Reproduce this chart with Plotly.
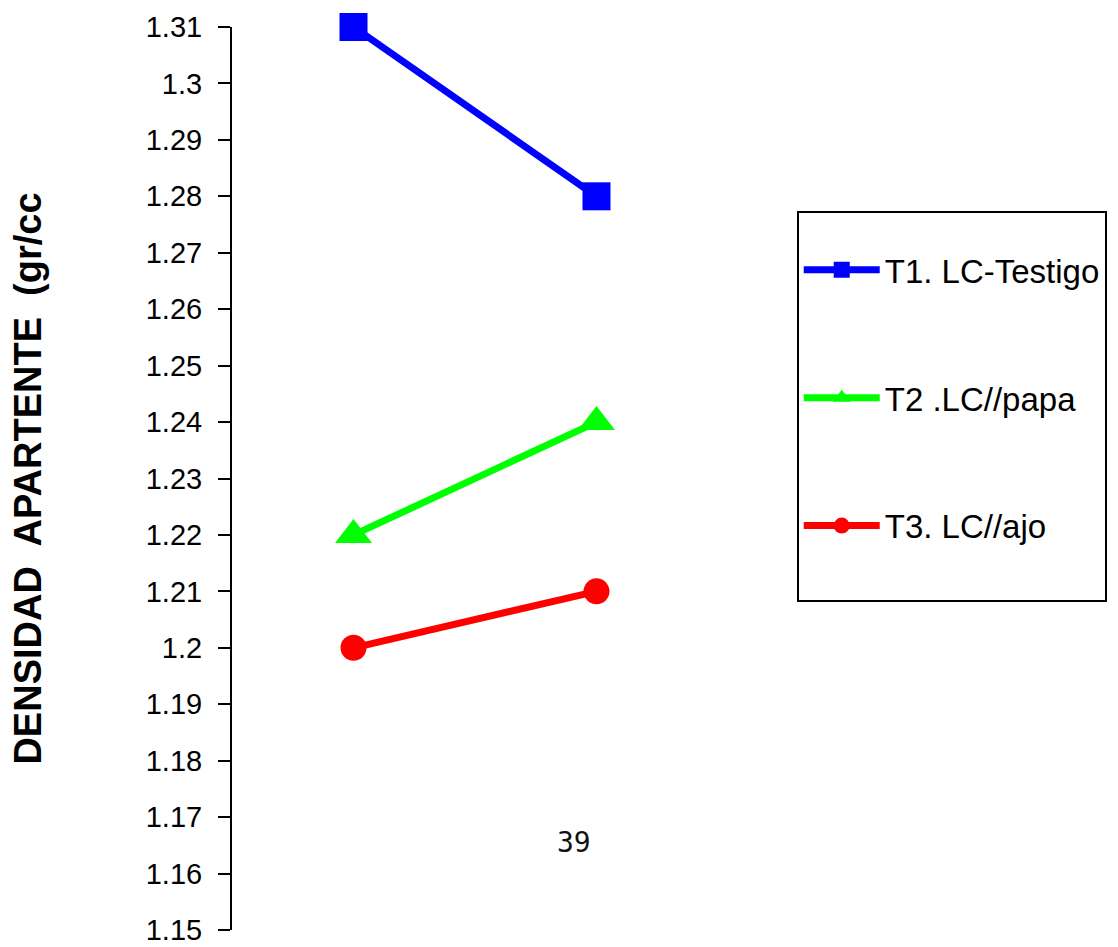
import plotly.graph_objects as go

periods = [1, 2]
series_names = ["T1. LC-Testigo", "T2 .LC//papa", "T3. LC//ajo"]
t1_values = [1.31, 1.28]
t2_values = [1.22, 1.24]
t3_values = [1.20, 1.21]
y_ticks = [1.15, 1.16, 1.17, 1.18, 1.19, 1.20, 1.21, 1.22, 1.23, 1.24,
           1.25, 1.26, 1.27, 1.28, 1.29, 1.30, 1.31]
y_tick_labels = ["1.15", "1.16", "1.17", "1.18", "1.19", "1.2", "1.21", "1.22", "1.23",
                 "1.24", "1.25", "1.26", "1.27", "1.28", "1.29", "1.3", "1.31"]

colors = ["#0000FF", "#00FF00", "#FF0000"]
symbols = ["square", "triangle-up", "circle"]
sizes = [28, 32, 26]
values = [t1_values, t2_values, t3_values]

fig = go.Figure()
for i, (name, vals) in enumerate(zip(series_names, values)):
    fig.add_trace(go.Scatter(
        x=periods, y=vals, name=name, mode="lines+markers",
        line=dict(color=colors[i], width=7),
        marker=dict(color=colors[i], symbol=symbols[i], size=sizes[i]),
        cliponaxis=False, legendgroup=f"g{i}",
    ))

# blank legend row to give the legend box its bottom padding
fig.add_trace(go.Scatter(
    x=[None], y=[None], name="&nbsp;", mode="lines",
    line=dict(color="rgba(0,0,0,0)", width=0),
    legendgroup="g2", hoverinfo="skip",
))

fig.update_layout(
    width=1118, height=947,
    margin=dict(l=232, r=400, t=27, b=17, autoexpand=False),
    paper_bgcolor="white", plot_bgcolor="white",
    font=dict(family="Liberation Sans, Arial, sans-serif", color="black"),
    showlegend=True,
    legend=dict(
        x=1.162, y=0.796, xanchor="left", yanchor="top",
        bordercolor="black", borderwidth=2, bgcolor="white",
        font=dict(size=33, family="Liberation Sans, Arial, sans-serif"),
        traceorder="grouped", tracegroupgap=82,
        title=dict(text="&nbsp;", font=dict(size=22)),
        itemwidth=76, entrywidth=340, entrywidthmode="pixels",
    ),
    xaxis=dict(range=[0.5, 2.5], visible=False, showgrid=False, zeroline=False),
    yaxis=dict(
        range=[1.15, 1.31], tickvals=y_ticks, ticktext=y_tick_labels,
        showline=True, linecolor="black", linewidth=2,
        ticks="outside", ticklen=12, tickwidth=2, tickcolor="black",
        ticklabelstandoff=10,
        showgrid=False, zeroline=False,
        tickfont=dict(size=29, family="Liberation Sans, Arial, sans-serif"),
        title=dict(text="<b>DENSIDAD  APARTENTE  (gr/cc</b>",
                   font=dict(size=38, family="Liberation Sans, Arial, sans-serif"),
                   standoff=92),
        automargin=False,
    ),
    annotations=[dict(
        text="39", xref="paper", yref="paper", x=(574 - 232) / 486, y=(930 - 842) / 903,
        showarrow=False, xanchor="center", yanchor="middle",
        font=dict(size=28, family="DejaVu Sans Mono", color="#111111"),
    )],
)

fig.write_html("out.html")
